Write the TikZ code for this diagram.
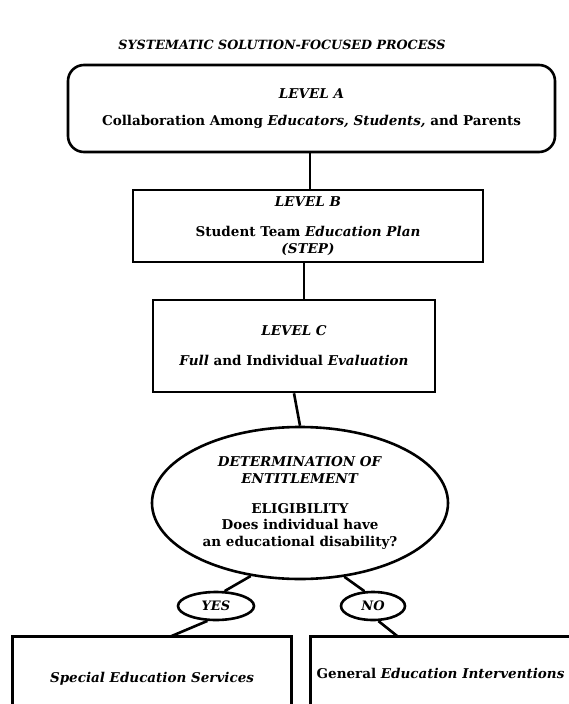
\documentclass[tikz,border=0pt]{standalone}
\usepackage{fontspec}
\setmainfont{DejaVu Serif}
\usetikzlibrary{shapes.geometric}
\begin{document}
\begin{tikzpicture}[x=1pt,y=-1pt,line width=2.6pt,
  every node/.style={font=\bfseries\fontsize{13.5}{15}\selectfont, align=center, inner sep=0pt},
  titletext/.style={font=\bfseries\itshape\fontsize{12.7}{15}\selectfont},
  roundbox/.style={draw, rounded corners=16pt},
  levelbox/.style={draw},
  decision/.style={draw, ellipse},
  answer/.style={draw, ellipse, font=\bfseries\itshape\fontsize{13}{15}\selectfont},
  link/.style={line width=2.6pt}]
\useasboundingbox (0,0) rectangle (569,704);
\coordinate (bot) at (0,704);

\node[titletext] (title) at (282,45) {SYSTEMATIC SOLUTION-FOCUSED PROCESS};

\node[roundbox, minimum width=487pt, minimum height=87pt] (A) at (311.5,108.5)
  {\textit{LEVEL A}\\[12pt] Collaboration Among \textit{Educators, Students,} and Parents};

\node[levelbox, minimum width=350pt, minimum height=72pt] (B) at (308,226)
  {\textit{LEVEL B}\\[15pt] Student Team \textit{Education Plan}\\[2pt] \textit{(STEP)}};

\node[levelbox, minimum width=282pt, minimum height=92pt] (C) at (294,346)
  {\textit{LEVEL C}\\[15pt] \textit{Full} and Individual \textit{Evaluation}};

\node[decision, minimum width=296pt, minimum height=152pt] (E) at (300,503)
  {\textit{DETERMINATION OF}\\[1.5pt] \textit{ENTITLEMENT}\\[15pt] ELIGIBILITY\\[1.5pt] Does individual have\\[1.5pt] an educational disability?};

\node[answer, minimum width=76pt, minimum height=28pt] (yes) at (216,606) {YES};
\node[answer, minimum width=64pt, minimum height=28pt] (no) at (373,606) {NO};

\node[minimum width=276pt, minimum height=66pt, text height=22pt, text depth=0pt] (spec) at (152,671)
  {\textit{Special Education Services}};
\node[minimum width=257pt, minimum height=66pt, text height=14pt, text depth=0pt] (gen) at (440.5,671)
  {General \textit{Education Interventions}};

\draw[link] (spec.north west |- bot) -- (spec.north west) -- (spec.north east) -- (spec.north east |- bot);
\draw[link] (gen.north west |- bot) -- (gen.north west) -- (gen.north east);

\draw[link] ([xshift=-1.5pt]A.south) -- ([xshift=-1.5pt]A.south |- B.north);
\draw[link] ([xshift=-4pt]B.south) -- ([xshift=-4pt]B.south |- C.north);
\draw[link] (C.south) -- (E.north);
\draw[link] (E.236) -- (yes.60);
\draw[link] (yes.240) -- (spec.north west -| 170,0);
\draw[link] (E.301) -- (no.120);
\draw[link] (no.290) -- (gen.north west -| 398,0);
\end{tikzpicture}
\end{document}
